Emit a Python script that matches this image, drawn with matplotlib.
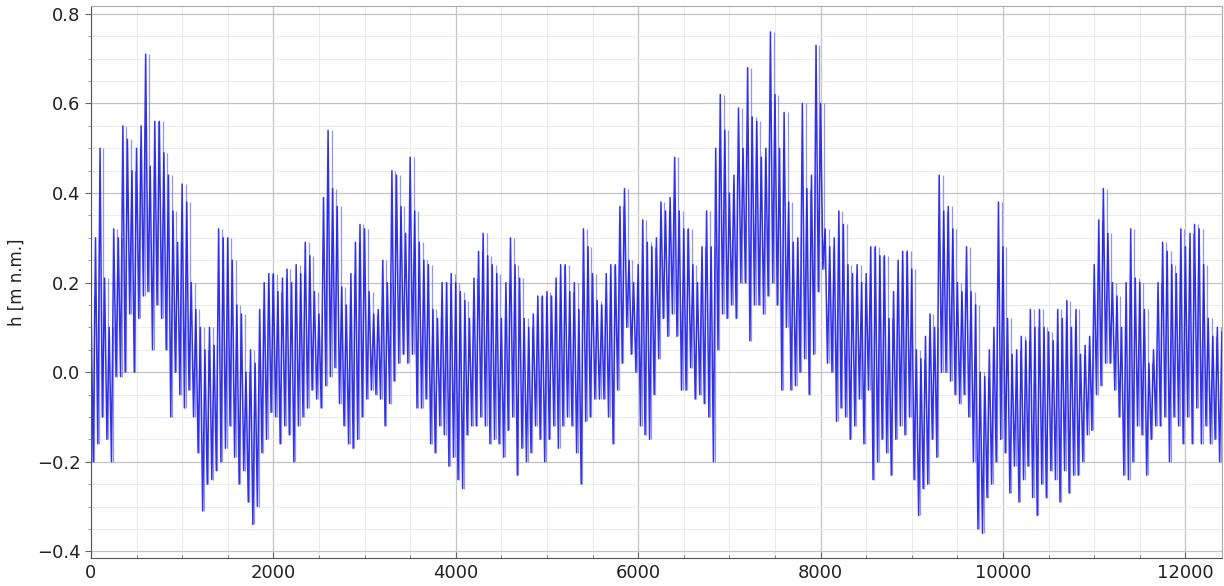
import numpy as np
import matplotlib
matplotlib.use("Agg")
import matplotlib.pyplot as plt
from matplotlib.ticker import MultipleLocator

# Sampling step of the read-off envelope (data units on x)
step = 50

# Local maxima (hi) and minima (lo) of the water level, one pair per 50-unit bin
hi = [
    # 0 - 1000
    0.17, 0.30, 0.50, 0.21, 0.10, 0.32, 0.30, 0.55, 0.52, 0.45,
    0.50, 0.55, 0.71, 0.46, 0.56, 0.56, 0.49, 0.44, 0.36, 0.29,
    # 1000 - 2000
    0.42, 0.38, 0.20, 0.14, 0.10, 0.05, 0.10, 0.06, 0.32, 0.30,
    0.30, 0.25, 0.15, 0.13, 0.00, 0.05, 0.02, 0.14, 0.20, 0.22,
    # 2000 - 3000
    0.22, 0.18, 0.21, 0.23, 0.20, 0.24, 0.22, 0.29, 0.26, 0.18,
    0.13, 0.39, 0.54, 0.41, 0.37, 0.19, 0.15, 0.22, 0.29, 0.33,
    # 3000 - 4000
    0.32, 0.18, 0.13, 0.14, 0.25, 0.20, 0.45, 0.44, 0.37, 0.31,
    0.48, 0.36, 0.29, 0.25, 0.24, 0.14, 0.12, 0.20, 0.20, 0.22,
    # 4000 - 5000
    0.20, 0.18, 0.16, 0.12, 0.21, 0.27, 0.31, 0.26, 0.24, 0.22,
    0.12, 0.20, 0.30, 0.24, 0.21, 0.12, 0.10, 0.13, 0.17, 0.17,
    # 5000 - 6000
    0.18, 0.17, 0.21, 0.24, 0.24, 0.18, 0.20, 0.14, 0.32, 0.28,
    0.22, 0.16, 0.15, 0.22, 0.24, 0.24, 0.37, 0.41, 0.25, 0.20,
    # 6000 - 7000
    0.24, 0.34, 0.29, 0.28, 0.30, 0.38, 0.36, 0.39, 0.48, 0.36,
    0.32, 0.32, 0.24, 0.20, 0.28, 0.36, 0.28, 0.50, 0.62, 0.54,
    # 7000 - 8000
    0.40, 0.44, 0.59, 0.50, 0.68, 0.57, 0.56, 0.48, 0.50, 0.76,
    0.62, 0.50, 0.58, 0.38, 0.29, 0.30, 0.60, 0.41, 0.44, 0.73,
    # 8000 - 9000
    0.60, 0.32, 0.28, 0.30, 0.36, 0.33, 0.24, 0.22, 0.24, 0.20,
    0.22, 0.28, 0.28, 0.26, 0.26, 0.12, 0.18, 0.25, 0.27, 0.27,
    # 9000 - 10000
    0.23, 0.05, 0.03, 0.08, 0.13, 0.10, 0.44, 0.36, 0.37, 0.32,
    0.20, 0.18, 0.28, 0.18, 0.15, 0.00, -0.01, 0.05, 0.10, 0.38,
    # 10000 - 11000
    0.28, 0.12, 0.04, 0.05, 0.08, 0.07, 0.14, 0.10, 0.14, 0.10,
    0.09, 0.07, 0.14, 0.12, 0.16, 0.10, 0.14, 0.04, 0.06, 0.08,
    # 11000 - 12000
    0.24, 0.34, 0.41, 0.31, 0.20, 0.17, 0.10, 0.20, 0.32, 0.21,
    0.20, 0.14, 0.02, 0.05, 0.20, 0.29, 0.27, 0.24, 0.22, 0.32,
    # 12000 - 12450
    0.28, 0.31, 0.33, 0.32, 0.24, 0.12, 0.08, 0.10, 0.09,
]

lo = [
    # 0 - 1000
    -0.20, -0.16, -0.10, -0.15, -0.20, -0.01, -0.01, 0.00, 0.13, 0.00,
    0.12, 0.17, 0.18, 0.05, 0.15, 0.12, 0.05, -0.10, 0.00, -0.05,
    # 1000 - 2000
    -0.08, -0.04, -0.10, -0.18, -0.31, -0.25, -0.24, -0.22, -0.20, -0.17,
    -0.12, -0.19, -0.25, -0.22, -0.29, -0.34, -0.30, -0.18, -0.15, -0.09,
    # 2000 - 3000
    -0.10, -0.16, -0.12, -0.14, -0.20, -0.12, -0.10, -0.08, -0.04, -0.06,
    -0.08, -0.03, -0.01, 0.01, -0.07, -0.12, -0.16, -0.17, -0.15, -0.10,
    # 3000 - 4000
    -0.06, -0.04, -0.05, -0.06, -0.12, -0.07, -0.02, 0.02, 0.04, 0.02,
    0.04, -0.08, -0.08, -0.06, -0.16, -0.18, -0.12, -0.14, -0.21, -0.19,
    # 4000 - 5000
    -0.24, -0.26, -0.14, -0.12, -0.12, -0.10, -0.12, -0.16, -0.15, -0.16,
    -0.19, -0.13, -0.10, -0.23, -0.17, -0.20, -0.18, -0.12, -0.15, -0.20,
    # 5000 - 6000
    -0.15, -0.12, -0.17, -0.12, -0.10, -0.12, -0.18, -0.25, -0.11, -0.10,
    -0.06, -0.06, -0.06, -0.10, -0.16, -0.04, 0.02, 0.10, 0.04, 0.00,
    # 6000 - 7000
    -0.12, -0.14, -0.15, -0.05, 0.03, 0.12, 0.08, 0.13, 0.08, -0.04,
    -0.04, 0.01, -0.06, -0.05, -0.07, -0.10, -0.20, 0.05, 0.13, 0.12,
    # 7000 - 8000
    0.15, 0.12, 0.20, 0.20, 0.07, 0.15, 0.15, 0.13, 0.17, 0.20,
    0.15, -0.04, 0.10, -0.04, -0.03, 0.00, 0.03, -0.05, 0.04, 0.18,
    # 8000 - 9000
    0.23, 0.02, 0.00, -0.11, -0.08, -0.10, -0.15, -0.12, -0.06, -0.16,
    -0.04, -0.24, -0.20, -0.15, -0.18, -0.23, -0.15, -0.12, -0.14, -0.10,
    # 9000 - 10000
    -0.24, -0.32, -0.26, -0.25, -0.15, -0.19, 0.00, 0.00, -0.02, -0.05,
    -0.07, -0.05, -0.10, -0.20, -0.35, -0.36, -0.28, -0.25, -0.20, -0.15,
    # 10000 - 11000
    -0.18, -0.27, -0.21, -0.29, -0.24, -0.21, -0.28, -0.32, -0.25, -0.28,
    -0.22, -0.24, -0.29, -0.22, -0.27, -0.23, -0.23, -0.20, -0.14, -0.13,
    # 11000 - 12000
    -0.05, -0.03, 0.02, 0.02, -0.04, -0.10, -0.23, -0.24, -0.20, -0.12,
    -0.14, -0.23, -0.15, -0.12, -0.12, -0.10, -0.20, -0.10, -0.12, -0.16,
    # 12000 - 12450
    -0.10, -0.16, -0.08, -0.16, -0.12, -0.16, -0.15, -0.20, -0.18,
]

ylabel = "h [m n.m.]"
xticks = [0, 2000, 4000, 6000, 8000, 10000, 12000]
yticks = [-0.4, -0.2, 0.0, 0.2, 0.4, 0.6, 0.8]

hi = np.asarray(hi)
lo = np.asarray(lo)
t = np.arange(len(hi)) * step
x = np.column_stack([t, t + step / 2]).ravel()
y = np.column_stack([hi, lo]).ravel()

fig = plt.figure(figsize=(12.24, 5.86), dpi=100)
ax = fig.add_axes([0.0743, 0.047, 0.9240, 0.943])

# light strokes spanning each bin's range, then the oscillating series on top
ax.vlines(t + step * 0.75, lo, hi, color="#8a8af2", lw=0.9, alpha=0.9)
ax.plot(x, y, color="#1c1ce6", lw=1.1, alpha=0.9)

ax.set_xlim(0, 12400)
ax.set_ylim(-0.416, 0.818)
ax.set_xticks(xticks)
ax.set_yticks(yticks)
ax.set_yticklabels([f"{v:.1f}".replace("-", "\u2212") for v in yticks])
ax.xaxis.set_minor_locator(MultipleLocator(500))
ax.yaxis.set_minor_locator(MultipleLocator(0.05))

ax.grid(which="major", color="#c4c4c4", lw=0.9)
ax.grid(which="minor", color="#ebebeb", lw=0.7)
ax.set_axisbelow(True)

ax.tick_params(axis="both", which="major", labelsize=13, colors="#222222")
ax.tick_params(axis="x", which="both", direction="in", color="#666666")
ax.tick_params(axis="y", which="major", direction="out", length=4, color="#666666")
ax.tick_params(axis="y", which="minor", direction="out", length=2, color="#888888")
ax.tick_params(axis="x", which="major", length=4, pad=4)
ax.tick_params(axis="x", which="minor", length=2.5)

for side in ["left", "bottom"]:
    ax.spines[side].set_color("#555555")
for side in ["top", "right"]:
    ax.spines[side].set_color("#aaaaaa")

ax.set_ylabel(ylabel, fontsize=12, color="#222222", labelpad=8)

fig.savefig("out.png", dpi=100)
